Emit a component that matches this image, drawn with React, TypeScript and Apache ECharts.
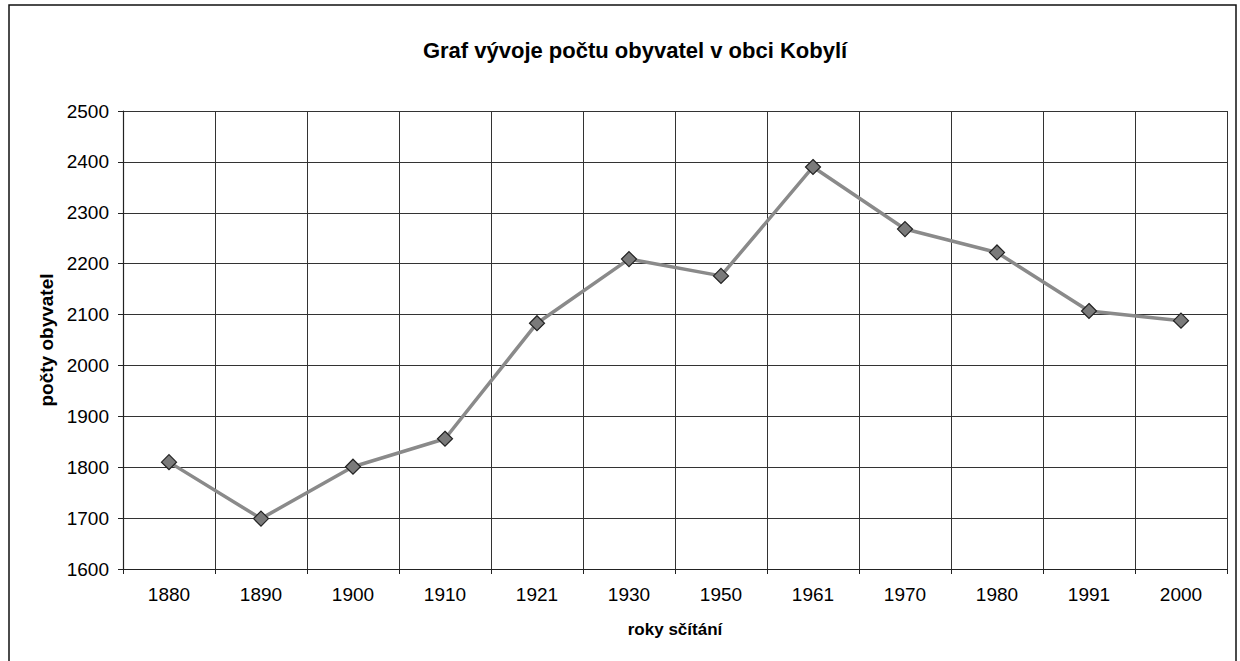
import React, { useEffect, useRef } from "react";
import * as echarts from "echarts";

const years = ["1880", "1890", "1900", "1910", "1921", "1930", "1950", "1961", "1970", "1980", "1991", "2000"];
const population = [1810, 1699, 1801, 1856, 2083, 2209, 2176, 2390, 2268, 2222, 2107, 2088];
const titleText = "Graf vývoje počtu obyvatel v obci Kobylí";
const xName = "roky sčítání";
const yName = "počty obyvatel";

export default function App() {
  const ref = useRef<HTMLDivElement>(null);
  useEffect(() => {
    if (!ref.current) return;
    const chart = echarts.init(ref.current, null, { renderer: "svg" });
    const font = "'Liberation Sans', Arial, sans-serif";
    chart.setOption({
      animation: false,
      backgroundColor: "#ffffff",
      textStyle: { fontFamily: font },
      title: {
        text: titleText,
        left: 630,
        textAlign: "center",
        top: 34,
        textStyle: { fontSize: 22, fontWeight: "bold", color: "#000", fontFamily: font },
      },
      graphic: [
        {
          type: "rect",
          shape: { x: 9, y: 5, width: 1227, height: 670 },
          style: { fill: "none", stroke: "#111", lineWidth: 1.5 },
          silent: true,
        },
      ],
      grid: { left: 123, right: 13, top: 111, bottom: 92 },
      xAxis: {
        type: "category",
        data: years,
        boundaryGap: true,
        name: xName,
        nameLocation: "middle",
        nameGap: 52,
        nameTextStyle: { fontSize: 17, fontWeight: "bold", color: "#000", fontFamily: font },
        axisLine: { lineStyle: { color: "#222", width: 1.2 } },
        axisTick: { show: true, length: 5, alignWithLabel: false, lineStyle: { color: "#222" } },
        axisLabel: { fontSize: 19, color: "#000", margin: 16, fontFamily: font },
        splitLine: { show: true, lineStyle: { color: "#333", width: 1 } },
      },
      yAxis: {
        type: "value",
        min: 1600,
        max: 2500,
        interval: 100,
        name: yName,
        nameLocation: "middle",
        nameGap: 62,
        nameTextStyle: { fontSize: 19, fontWeight: "bold", color: "#000", fontFamily: font },
        axisLine: { show: true, lineStyle: { color: "#222", width: 1.2 } },
        axisTick: { show: true, length: 5, lineStyle: { color: "#222" } },
        axisLabel: { fontSize: 19, color: "#000", margin: 14, fontFamily: font, formatter: (v: number) => String(v) },
        splitLine: { show: true, lineStyle: { color: "#333", width: 1 } },
      },
      series: [
        {
          type: "line",
          data: population,
          symbol: "diamond",
          symbolSize: 15,
          lineStyle: { color: "#8a8a8a", width: 3.5 },
          itemStyle: { color: "#7a7a7a", borderColor: "#222", borderWidth: 1.2 },
        },
      ],
    });
    return () => chart.dispose();
  }, []);
  return (
    <div
      ref={ref}
      style={{ position: "fixed", left: 0, top: 0, width: 1240, height: 661 }}
    />
  );
}
